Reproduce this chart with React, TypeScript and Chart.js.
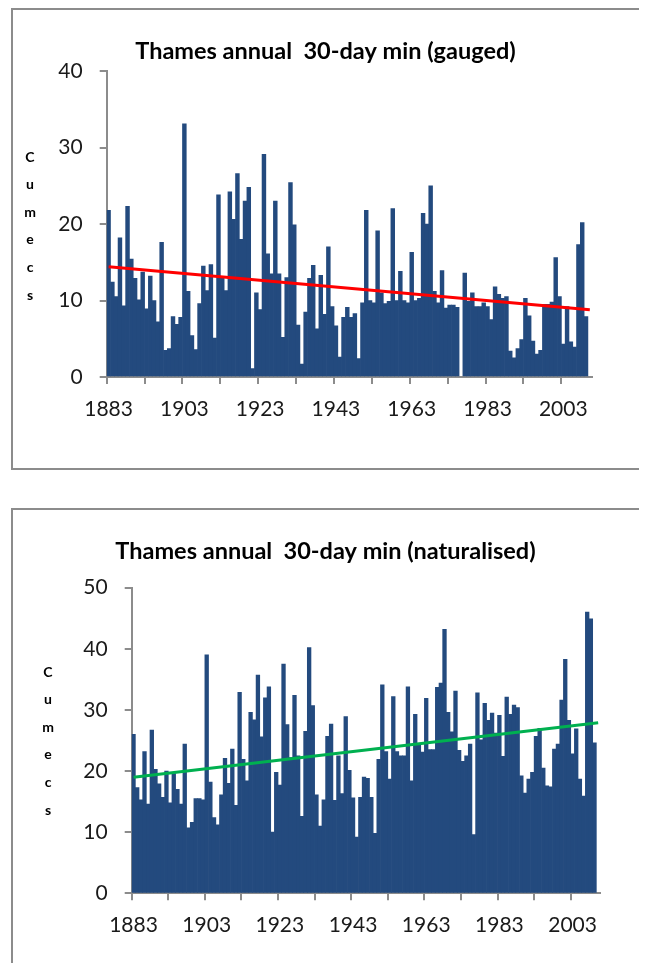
import React, { useEffect, useRef } from "react";
import { Chart, registerables } from "chart.js";

Chart.register(...registerables);

// ---------- data ----------
const FIRST_YEAR = 1883;
const LAST_YEAR = 2010;
const years: string[] = [];
for (let y = FIRST_YEAR; y <= LAST_YEAR; y++) years.push(String(y));

const xTickLabels = ["1883", "1903", "1923", "1943", "1963", "1983", "2003"];
const gaugedYTicks = [0, 10, 20, 30, 40];
const naturalisedYTicks = [0, 10, 20, 30, 40, 50];
const axisTitleLetters = ["C", "u", "m", "e", "c", "s"];

// Thames annual 30-day minimum, gauged (cumecs), 1883..2010
const gaugedFlow: (number | null)[] = [
  21.8, 12.4, 10.5, 18.2, 9.3, 22.3, 15.4, 12.9, 10.1, 13.7,
  8.9, 13.2, 10.0, 7.2, 17.6, 3.5, 3.7, 7.9, 6.9, 7.8,
  33.1, 11.2, 5.4, 3.6, 9.6, 14.5, 11.3, 14.7, 5.1, 23.8,
  12.9, 11.3, 24.2, 20.6, 26.6, 18.0, 23.0, 24.8, 1.1, 11.0,
  8.8, 29.1, 16.1, 13.5, 23.0, 13.5, 5.2, 13.0, 25.4, 19.9,
  6.8, 1.7, 8.5, 12.9, 14.6, 6.3, 13.3, 8.2, 17.0, 9.2,
  6.7, 2.6, 7.8, 9.1, 7.8, 8.3, 2.4, 9.7, 21.8, 10.0,
  9.7, 19.1, 11.0, 9.6, 9.9, 22.0, 10.0, 13.8, 10.0, 9.7,
  16.3, 10.0, 10.3, 21.4, 20.0, 25.0, 11.2, 9.7, 13.9, 9.0,
  9.4, 9.4, 9.1, null, 13.6, 9.9, 11.0, 9.2, 9.2, 9.7,
  9.2, 7.5, 11.8, 10.8, 10.3, 10.5, 3.4, 2.5, 3.7, 4.9,
  10.3, 8.0, 4.7, 3.0, 3.5, 9.5, 9.5, 9.8, 15.6, 10.5,
  4.3, 9.2, 4.6, 3.9, 17.3, 20.2, 7.9, null,
];

// Thames annual 30-day minimum, naturalised (cumecs), 1883..2010
const naturalisedFlow: (number | null)[] = [
  26.0, 17.3, 15.3, 23.2, 14.6, 26.7, 20.3, 17.9, 15.7, 20.0,
  14.8, 19.6, 17.0, 14.6, 24.4, 10.7, 11.6, 15.5, 15.5, 15.3,
  39.0, 18.2, 12.4, 11.2, 16.1, 22.1, 18.0, 23.6, 14.4, 32.9,
  21.9, 18.4, 29.6, 28.4, 35.7, 25.6, 32.0, 33.8, 10.0, 19.8,
  17.7, 37.5, 27.6, 22.2, 32.4, 22.5, 12.6, 26.5, 40.2, 30.7,
  16.1, 11.0, 15.3, 25.7, 27.7, 15.2, 22.5, 16.3, 28.9, 20.1,
  15.6, 9.2, 15.7, 19.0, 18.8, 15.7, 9.8, 21.9, 34.1, 23.2,
  18.7, 32.2, 23.2, 22.5, 22.5, 33.8, 18.4, 29.3, 24.4, 23.1,
  31.9, 23.5, 23.5, 33.7, 34.4, 43.2, 29.6, 26.4, 33.1, 23.4,
  21.6, 22.5, 24.4, 9.6, 32.8, 25.1, 31.1, 28.3, 29.5, 26.2,
  29.1, 22.4, 32.1, 29.3, 30.8, 30.4, 19.2, 16.4, 18.7, 19.8,
  25.7, 27.0, 20.5, 17.6, 17.4, 23.6, 24.4, 31.6, 38.3, 28.3,
  22.8, 26.9, 18.7, 15.9, 46.0, 44.9, 24.6, null,
];

// linear trend: value at first and last category
const gaugedTrend = [14.4, 8.8];
const naturalisedTrend = [19.0, 27.9];

// ---------- styling ----------
const FONT = "Lato";
const BAR_COLOR = "#234A7E";
const AXIS_COLOR = "#8C8C8C";
const TEXT_COLOR = "#1A1A1A";
const CANVAS_W = 631;
const CANVAS_H = 458;

const labelsPlugin = {
  id: "chartText",
  afterDraw(chart: any, _args: any, opts: any) {
    const ctx = chart.ctx;
    ctx.save();
    // title
    ctx.font = `bold ${opts.titleSize}px ${FONT}`;
    ctx.fillStyle = "#000";
    ctx.textAlign = "center";
    ctx.textBaseline = "alphabetic";
    ctx.fillText(opts.title, opts.titleX, opts.titleY);
    // stacked axis title
    ctx.font = `bold ${opts.letterSize}px ${FONT}`;
    ctx.textBaseline = "middle";
    axisTitleLetters.forEach((ch, i) => {
      ctx.fillText(ch, opts.lettersX, opts.lettersY + i * opts.letterStep);
    });
    ctx.restore();
  },
};

type ChartProps = {
  title: string;
  values: (number | null)[];
  trend: number[];
  trendColor: string;
  yTicks: number[];
  yAxisWidth: number;
  xAxisHeight: number;
  rightPad: number;
  topPad: number;
  lettersX: number;
  lettersY: number;
  marginTop: number;
};

function FlowChart(p: ChartProps) {
  const ref = useRef<HTMLCanvasElement>(null);

  useEffect(() => {
    if (!ref.current) return;
    const trendData = years.map((_, i) =>
      i === 0 ? p.trend[0] : i === years.length - 1 ? p.trend[1] : null
    );
    const chart = new Chart(ref.current, {
      type: "bar",
      data: {
        labels: years,
        datasets: [
          {
            type: "line",
            data: trendData,
            borderColor: p.trendColor,
            borderWidth: 3,
            pointRadius: 0,
            spanGaps: true,
            order: 0,
          } as any,
          {
            type: "bar",
            data: p.values,
            backgroundColor: BAR_COLOR,
            borderWidth: 0,
            barPercentage: 1,
            categoryPercentage: 1,
            order: 1,
          } as any,
        ],
      },
      options: {
        responsive: false,
        animation: false,
        events: [],
        layout: { padding: { left: 0, right: p.rightPad, top: p.topPad, bottom: 0 } },
        plugins: {
          legend: { display: false },
          tooltip: { enabled: false },
          title: { display: false },
          chartText: {
            title: p.title,
            titleSize: 23.5,
            titleX: 312.5,
            titleY: 48.5,
            letterSize: 14,
            lettersX: p.lettersX,
            lettersY: p.lettersY,
            letterStep: 27.6,
          },
        } as any,
        scales: {
          x: {
            type: "category",
            offset: true,
            grid: {
              offset: true,
              drawOnChartArea: false,
              drawTicks: true,
              tickLength: 7,
              lineWidth: 2,
              color: (ctx: any) =>
                typeof ctx.index === "number" && ctx.index % 10 === 0 ? AXIS_COLOR : "rgba(0,0,0,0)",
            },
            border: { display: true, color: AXIS_COLOR, width: 2 },
            ticks: {
              autoSkip: false,
              maxRotation: 0,
              minRotation: 0,
              padding: 12.6,
              color: TEXT_COLOR,
              font: { family: FONT, size: 21 },
              callback: (_v: any, i: number) =>
                xTickLabels.includes(years[i]) ? years[i] : "",
            },
            afterFit: (s: any) => {
              s.height = p.xAxisHeight;
            },
          },
          y: {
            min: 0,
            max: p.yTicks[p.yTicks.length - 1],
            grid: {
              drawOnChartArea: false,
              drawTicks: true,
              tickLength: 7,
              lineWidth: 2,
              color: AXIS_COLOR,
            },
            border: { display: true, color: AXIS_COLOR, width: 2 },
            ticks: {
              padding: 17,
              color: TEXT_COLOR,
              font: { family: FONT, size: 21 },
            },
            afterBuildTicks: (s: any) => {
              s.ticks = p.yTicks.map((v) => ({ value: v }));
            },
            afterFit: (s: any) => {
              s.width = p.yAxisWidth;
            },
          },
        },
      } as any,
      plugins: [labelsPlugin as any],
    });
    return () => chart.destroy();
  }, []);

  return (
    <div
      style={{
        width: CANVAS_W,
        height: CANVAS_H,
        border: `2px solid ${AXIS_COLOR}`,
        marginLeft: 3,
        marginTop: p.marginTop,
        background: "#fff",
      }}
    >
      <canvas ref={ref} width={CANVAS_W} height={CANVAS_H} style={{ display: "block" }} />
    </div>
  );
}

export default function App() {
  return (
    <div>
      <FlowChart
        title="Thames annual  30-day min (gauged)"
        values={gaugedFlow}
        trend={gaugedTrend}
        trendColor="#FF0000"
        yTicks={gaugedYTicks}
        yAxisWidth={93.7}
        xAxisHeight={91}
        rightPad={52.3}
        topPad={61}
        lettersX={17}
        lettersY={147}
        marginTop={0}
      />
      <FlowChart
        title="Thames annual  30-day min (naturalised)"
        values={naturalisedFlow}
        trend={naturalisedTrend}
        trendColor="#00B050"
        yTicks={naturalisedYTicks}
        yAxisWidth={118.7}
        xAxisHeight={74.7}
        rightPad={44}
        topPad={77.7}
        lettersX={35}
        lettersY={162}
        marginTop={38}
      />
    </div>
  );
}
